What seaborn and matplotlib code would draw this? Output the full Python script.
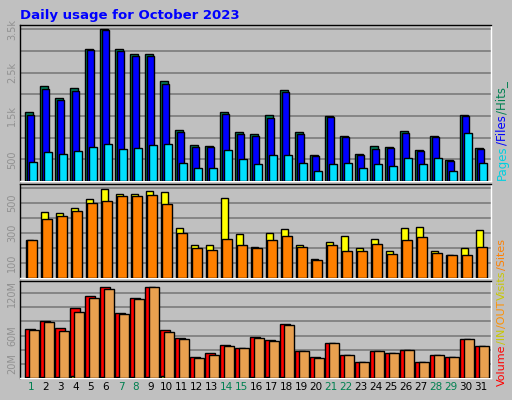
import matplotlib
matplotlib.use("Agg")
import matplotlib.pyplot as plt
import seaborn as sns
import numpy as np

days = list(range(1, 32))
hits = [1600,2190,1920,2150,3046,3515,3046,2930,2930,2308,1185,830,808,1600,1130,1085,1523,2100,1130,600,1500,1040,623,808,785,1154,715,1040,485,1523,770]
files = [1523,2123,1877,2085,3023,3485,3000,2892,2892,2238,1130,785,785,1546,1085,1040,1462,2062,1085,577,1477,1015,600,746,762,1108,692,1015,462,1500,738]
pages = [438,669,623,692,785,854,738,762,830,854,415,300,300,715,508,392,600,600,415,231,392,415,300,392,346,530,392,530,231,1108,415]
visits = [249,436,429,462,522,589,555,555,576,569,329,222,222,529,289,209,302,322,216,129,236,282,202,262,182,329,336,182,156,196,316]
sites = [249,389,409,442,496,509,542,542,549,489,296,202,189,256,222,196,249,276,209,122,216,176,182,229,162,249,269,169,156,156,209]
volume = [69,80,70,99,116,129,92,113,129,68,56,29,35,46,43,58,53,76,38,29,50,33,22,38,36,40,23,33,29,55,45]
kin = [1.2,1.2,2,3,1.5,1.5,1.5,1.5,1.2,2.5,0.5,0.5,0.5,0.5,0.5,1,1,1,0.5,0.5,0.5,0.5,0.5,0.5,0.5,0.5,0.5,0.5,0.5,0.5,0.5]
kout = [68,79,66,93,113,126,90,112,128,65,55,28,33,45,43,56,52,75,38,28,49,32,22,38,36,39,22,33,29,55,45]
weekends = {1,7,8,14,15,21,22,28,29}

sns.set_theme(style="white")
plt.rcParams['font.family'] = ['DejaVu Sans']
BG = "#c0c0c0"
fig = plt.figure(figsize=(5.12, 4.0), dpi=100, facecolor=BG)
W, H = 512, 400

def mkax(top, bottom):
    return fig.add_axes([20/W, 1-bottom/H, 471/W, (bottom-top)/H], facecolor=BG)

x = np.array(days, dtype=float)
xlim = (0.27, 0.27 + 471/15)

def bars(ax, vals, lo, hi, color):
    ax.bar(x + lo, vals, width=hi-lo, align='edge', color=color, edgecolor='black', linewidth=1, zorder=3)

def style(ax, ylim, grid, ticks, labels):
    ax.set_xlim(*xlim)
    ax.set_ylim(*ylim)
    ax.set_xticks([])
    for g in grid:
        ax.axhline(g, color="#808080", lw=1.3, zorder=1)
    ax.set_yticks(ticks)
    ax.set_yticklabels(labels, rotation=90, va='center', color="#909090", fontsize=7)
    ax.tick_params(axis='y', length=0, pad=2)
    for s in ax.spines.values():
        s.set_color('black'); s.set_linewidth(1)
    ax.spines['right'].set_color('white'); ax.spines['bottom'].set_color('white')

ax1 = mkax(25, 181)
bars(ax1, hits, -0.38, 0.11, "#00805c")
bars(ax1, files, -0.29, 0.22, "#0000ff")
bars(ax1, pages, -0.12, 0.38, "#00e0ff")
style(ax1, (0, 3600), range(500, 3600, 500), [500, 1500, 2500, 3500], ["500", "1.5k", "2.5k", "3.5k"])

ax2 = mkax(184, 278)
bars(ax2, visits, -0.35, 0.11, "#ffff00")
bars(ax2, sites, -0.24, 0.38, "#ff8000")
style(ax2, (0, 624), range(100, 700, 100), [100, 300, 500], ["100", "300", "500"])

ax3 = mkax(281, 378)
bars(ax3, volume, -0.38, 0.25, "#ff0000")
bars(ax3, kin, -0.30, -0.15, "#ffff00")
bars(ax3, kout, -0.12, 0.53, "#e8a050")
style(ax3, (0, 137), range(20, 140, 20), [20, 60, 120], ["20M", "60M", "120M"])

for d in days:
    fig.text((20 + (d - xlim[0]) * 15) / W, 1 - 387/H, str(d), ha='center', va='center',
             fontsize=7.5, color="#008050" if d in weekends else "black")

fig.text(20/W, 1 - 15/H, "Daily usage for October 2023", color="#0000ff", fontsize=9.5,
         fontweight='bold', ha='left', va='center')

renderer = fig.canvas.get_renderer()

def vlab(pieces, ybottom, fs):
    y = ybottom
    for txt, col in pieces:
        t = fig.text(502/W, 1 - y/H, txt, rotation=90, ha='center', va='bottom', color=col, fontsize=fs)
        ext = t.get_window_extent(renderer=renderer)
        y -= ext.height + 0.5

vlab([("Pages", "#00d0e0"), ("/Files", "#0000ff"), ("/Hits_", "#008050")], 180, 8.5)
vlab([("Volume", "#ff0000"), ("/IN", "#c8c800"), ("/OUT", "#ff9000"), ("Visits", "#c8c800"), ("/Sites", "#ff8000")], 386, 8)

fig.savefig("out.png", dpi=100, facecolor=BG)
